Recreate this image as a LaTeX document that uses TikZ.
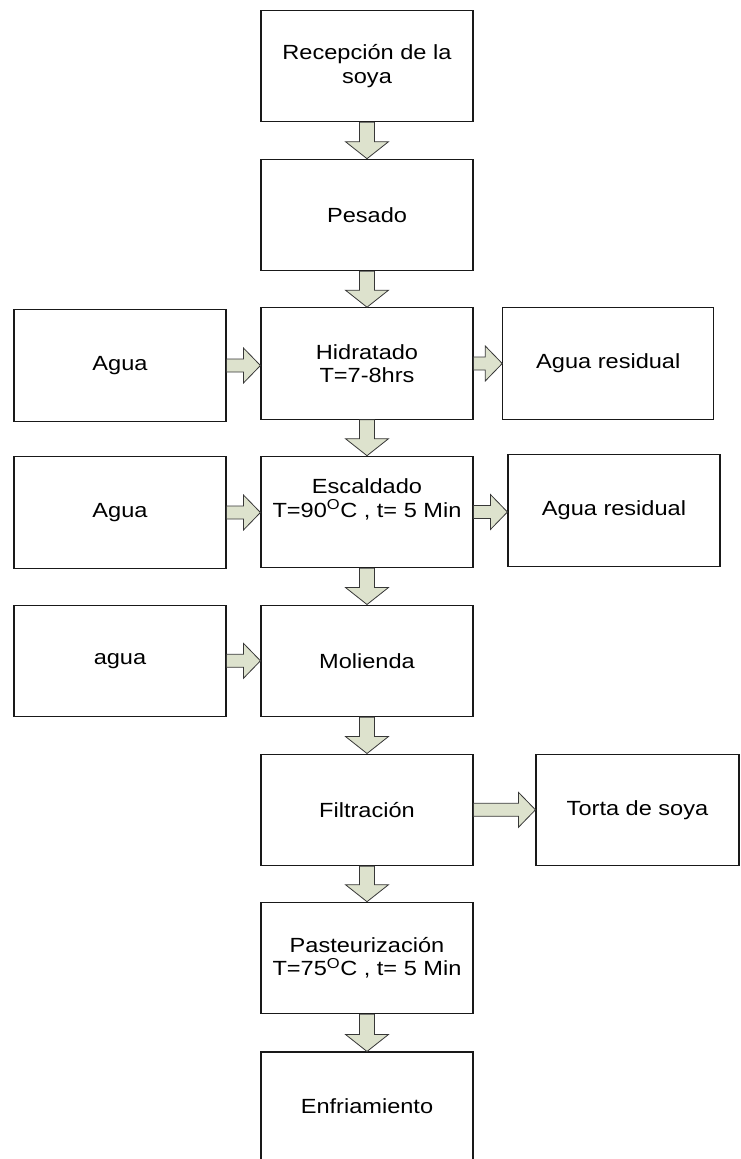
\documentclass[tikz,border=0pt]{standalone}
\usepackage{fontspec}
\setmainfont{Liberation Sans}[FakeStretch=1.15]
\usetikzlibrary{calc}

\definecolor{relleno}{RGB}{221,226,205}
\definecolor{borde}{RGB}{25,25,25}
\definecolor{bordeflecha}{RGB}{55,55,55}

\tikzset{
  caja/.style={draw=borde, line width=1.1pt, rectangle, minimum width=212pt,
    minimum height=111.5pt, inner sep=0pt, align=center,
    font=\fontsize{20.5}{23.5}\selectfont},
  flecha/.style={draw=bordeflecha, fill=relleno, line width=0.8pt, line join=miter},
}

% block arrow pointing down, from the bottom of #1 to the top of #2
\newcommand{\flechaabajo}[2]{%
  \draw[flecha] let \p1=(#1.south), \p2=(#2.north) in
    (\x1-7.5pt,\y1) -- (\x1+7.5pt,\y1) -- (\x1+7.5pt,\y2+17pt) -- (\x1+21.5pt,\y2+17pt)
    -- (\x1,\y2) -- (\x1-21.5pt,\y2+17pt) -- (\x1-7.5pt,\y2+17pt) -- cycle;}

% block arrow pointing right, from the right side of #1 to the left side of #2
\newcommand{\flechader}[2]{%
  \draw[flecha] let \p1=(#1.east), \p2=(#2.west) in
    (\x1,\y1+6.5pt) -- (\x2-17pt,\y1+6.5pt) -- (\x2-17pt,\y1+17.5pt) -- (\x2,\y1)
    -- (\x2-17pt,\y1-17.5pt) -- (\x2-17pt,\y1-6.5pt) -- (\x1,\y1-6.5pt) -- cycle;}

\begin{document}
\begin{tikzpicture}[x=1pt, y=-1pt]
  \useasboundingbox (0,0) rectangle (740,1159);

  % main process column
  \node[caja] (b1) at (367,66)    {Recepción de la\\soya};
  \node[caja] (b2) at (367,215)   {Pesado};
  \node[caja] (b3) at (367,363.5) {Hidratado\\T=7-8hrs};
  \node[caja] (b4) at (367,512)   {Escaldado\\T=90\textsuperscript{O}C , t= 5 Min\\[4pt]\mbox{}};
  \node[caja] (b5) at (367,660.8) {Molienda};
  \node[caja] (b6) at (367,809.8) {Filtración};
  \node[caja] (b7) at (367,958)   {Pasteurización\\T=75\textsuperscript{O}C , t= 5 Min};
  \node[caja, minimum height=109pt] (b8) at (367,1106.5) {Enfriamiento};

  % inputs
  \node[caja] (e1) at (120,365.5) {Agua};
  \node[caja] (e2) at (120,512.5) {Agua};
  \node[caja] (e3) at (120,660.8) {agua};

  % outputs
  \node[caja, minimum width=211pt] (s1) at (608.3,363.5) {Agua residual};
  \node[caja] (s2) at (614,510.5) {Agua residual};
  \node[caja, minimum width=203pt] (s3) at (637.5,809.8) {Torta de soya};

  % flow between the steps
  \flechaabajo{b1}{b2}
  \flechaabajo{b2}{b3}
  \flechaabajo{b3}{b4}
  \flechaabajo{b4}{b5}
  \flechaabajo{b5}{b6}
  \flechaabajo{b6}{b7}
  \flechaabajo{b7}{b8}

  \flechader{e1}{b3}
  \flechader{e2}{b4}
  \flechader{e3}{b5}
  \flechader{b3}{s1}
  \flechader{b4}{s2}
  \flechader{b6}{s3}
\end{tikzpicture}
\end{document}
